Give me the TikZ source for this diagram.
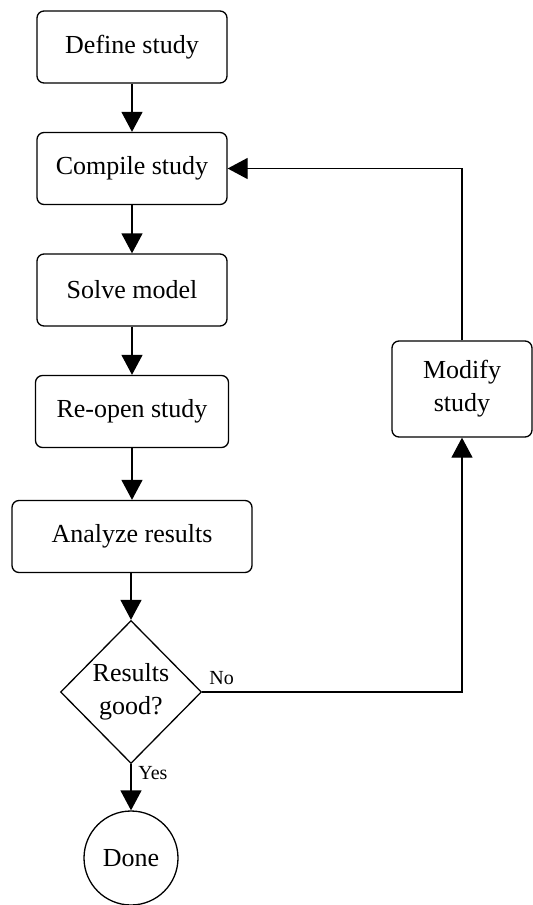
\documentclass[tikz,border=0pt]{standalone}
\usepackage{fontspec}
\setmainfont{Liberation Serif}
\usetikzlibrary{shapes.geometric,arrows.meta}
\begin{document}
\begin{tikzpicture}[x=0.5pt,y=-0.5pt,line width=0.65pt,
  font=\fontsize{13}{16.5}\selectfont,
  stepbox/.style={draw,rounded corners=3.5pt,minimum width=95pt,minimum height=36pt,align=center},
  choice/.style={draw,diamond,inner sep=0pt,minimum width=70.5pt,minimum height=71.5pt,align=center},
  finish/.style={draw,circle,minimum size=47pt},
  flow/.style={-{Triangle[length=10pt,width=10.5pt]}},
  tag/.style={font=\fontsize{10}{12}\selectfont}]
\useasboundingbox (0,0) rectangle (532,905);
\node[stepbox] (define) at (132,47) {Define study};
\node[stepbox] (compile) at (132,168.5) {Compile study};
\node[stepbox] (solve) at (132,290) {Solve model};
\node[stepbox,minimum width=96.5pt] (reopen) at (132,411.5) {Re-open study};
\node[stepbox,minimum width=120pt] (analyze) at (132,536.5) {Analyze results};
\node[choice] (good) at (131,692) {Results\\good?};
\node[finish] (done) at (131,858) {Done};
\node[stepbox,minimum width=70pt,minimum height=48pt] (modify) at (462,389) {Modify\\study};
\draw[flow] (define) -- (compile);
\draw[flow] (compile) -- (solve);
\draw[flow] (solve) -- (reopen);
\draw[flow] (reopen) -- (analyze);
\draw[flow] (analyze.south -| good.north) -- (good);
\draw[flow] (good) -- node[tag,pos=0.2,right]{Yes} (done);
\draw[flow] (good.east) node[tag,above right]{No} -| (modify.south);
\draw[flow] (modify.north) |- (compile.east);
\end{tikzpicture}
\end{document}
